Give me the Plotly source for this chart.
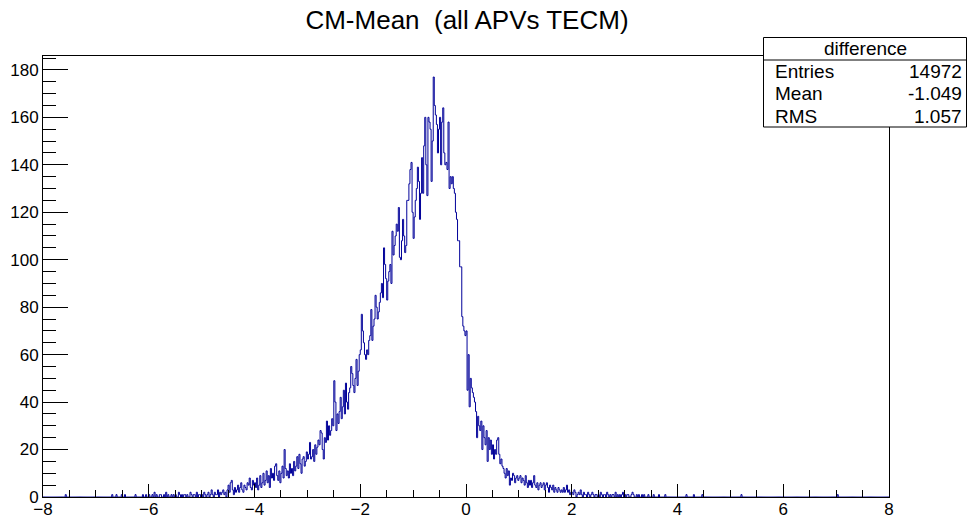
import plotly.graph_objects as go

# ---- data: bin counts, 800 bins of width 0.02 on [-8, 8], split per unit interval ----
x_min, x_max, n_bins = -8.0, 8.0, 800

c_m8 = [0]*21 + [1] + [0]*28
c_m7 = [0]*15 + [1,0,0,0,1,0,0,0,0,1,0,0,1] + [0]*9 + [1] + [0]*6 + [1,0,0,1,0,0]
c_m6 = [1,0,0,1,0,2,0,1,0,0,1,1,0,0,1,0,2,0,1,0,0,1,0,1,0,
        1,0,0,2,1,0,1,0,1,1,0,1,0,0,2,1,0,1,1,0,2,0,1,1,0]
c_m5 = [1,0,2,1,0,1,2,0,1,3,1,0,2,1,1,3,0,2,1,2,3,1,2,0,3,
        5,2,6,7,3,1,4,2,3,5,2,4,6,3,2,5,4,3,6,5,8,4,3,7,5]
c_m4 = [6,4,8,3,5,9,4,6,10,5,
        7,11,6,9,4,12,8,10,7,13,
        14,9,7,11,6,10,13,8,20,12,
        9,11,8,14,10,12,9,15,11,13,
        17,12,18,14,10,16,17,13,15,19]
c_m3 = [16,18,23,16,17,20,15,22,18,21,
        24,22,28,27,20,16,25,23,32,24,
        30,26,28,33,30,49,40,28,35,31,
        36,42,33,38,45,35,48,40,37,44,
        46,55,52,47,44,50,58,47,53,60]
c_m2 = [62,77,70,65,60, 58,62,60,66,68, 79,66,72,75,85, 80,75,78,82,86,
        90,84,105,98,92, 83,91,95,98,90, 112,102,106,110,115, 112,122,101,100,108,
        117,110,103,106,125, 125,132,138,141,120]
c_m1 = [109,118,125,130,139, 133,117,128,143,128, 148,160,140,127,160,
        158,155,133,150,177, 165,161,157,145,155, 160,140,158,164,145,
        140,141,138,158,130, 135,132,135,130,128, 120,117,108,108,97,
        97,76,72,70,68]
c_p0 = [70,45,60,38,50, 46,44,42,40,36, 25,34,30,28,32, 20,30,25,22,28,
        15,25,20,24,18, 22,16,20,18,24, 25,18,14,16,13, 12,10,8,12,9,
        11,5,8,7,10, 9,6,8,9,7]
c_p1 = [8,9,6,8,7,5,9,6,4,7,
        5,7,4,6,9,5,4,6,3,5,
        6,4,5,6,3,5,6,4,2,5,
        4,3,5,2,4,3,2,4,3,2,
        3,2,4,2,3,5,2,3,1,2]
c_p2 = [2,1,3,2,0,1,2,1,3,1,0,2,1,1,0,2,1,0,1,2,1,0,1,1,0,
        1,0,2,1,0,1,1,0,2,1,0,1,0,1,1,0,2,0,1,0,1,0,1,2,0]
c_p3 = [1,0,1,1,0,0,1,2,1,0,0,1,0,1,0,0,1,0,1,0,0,0,1,0,0,
        0,0,1,0,0,0,0,1,0,0,0,0,0,1,0,0,0,0,0,0,0,0,0,0,0]
c_p4 = [0]*8 + [1] + [0]*6 + [1] + [0]*7 + [1] + [0]*26
c_p5 = [0]*10 + [1] + [0]*39
c_p6 = [0]*50
c_p7 = [0,1] + [0]*48

counts = (c_m8 + c_m7 + c_m6 + c_m5 + c_m4 + c_m3 + c_m2 + c_m1 +
          c_p0 + c_p1 + c_p2 + c_p3 + c_p4 + c_p5 + c_p6 + c_p7)

title_text = "CM-Mean \u00a0(all APVs TECM)"
stats_title = "difference"
stats_labels = ["Entries", "Mean", "RMS"]
stats_values = ["14972", "-1.049", "1.057"]

# ---- figure ----
bw = (x_max - x_min) / n_bins
edges = [x_min + i * bw for i in range(n_bins + 1)]
xs = edges
ys = counts + [counts[-1]]

W, H = 968, 519
L, R, T, B = 43, 79, 56, 22
pw, ph = W - L - R, H - T - B

def px2x(px):
    return (px - L) / pw

def py2y(py):
    return (H - B - py) / ph

fig = go.Figure()
fig.add_trace(go.Scatter(x=xs, y=ys, mode="lines", line_shape="hv",
                         line=dict(color="#000099", width=1), hoverinfo="skip",
                         showlegend=False))

font_family = "Liberation Sans, Arial, Helvetica, sans-serif"
ymax = max(counts) * 1.05

fig.update_layout(
    width=W, height=H,
    margin=dict(l=L, r=R, t=T, b=B, autoexpand=False),
    paper_bgcolor="white", plot_bgcolor="white",
    font=dict(family=font_family, size=17, color="black"),
    title=dict(text=title_text, x=(467) / W, xanchor="center",
               y=1 - 20 / H, yanchor="middle",
               font=dict(size=26, family=font_family, color="black")),
    xaxis=dict(range=[x_min, x_max], showgrid=False, zeroline=False, automargin=False,
               showline=True, linecolor="black", linewidth=1, mirror=True,
               ticks="inside", ticklen=13, tickcolor="black", dtick=2, tick0=-8,
               minor=dict(ticks="inside", ticklen=7, dtick=0.5, tickcolor="black"),
               tickfont=dict(size=17), ticklabelstandoff=-3),
    yaxis=dict(range=[0, ymax], showgrid=False, zeroline=False, automargin=False,
               showline=True, linecolor="black", linewidth=1, mirror=True,
               ticks="inside", ticklen=25, tickcolor="black", dtick=20, tick0=0,
               minor=dict(ticks="inside", ticklen=13, dtick=5, tickcolor="black"),
               tickfont=dict(size=17)),
)

# stats box
bx0, bx1 = px2x(763.5), px2x(966.5)
by0, by1, bys = py2y(127), py2y(37.5), py2y(60)
fig.add_shape(type="rect", xref="paper", yref="paper", x0=bx0, x1=bx1, y0=by0, y1=by1,
              line=dict(color="black", width=1), fillcolor="white", layer="above")
fig.add_shape(type="line", xref="paper", yref="paper", x0=bx0, x1=bx1, y0=bys, y1=bys,
              line=dict(color="black", width=1), layer="above")
fig.add_annotation(xref="paper", yref="paper", x=(bx0 + bx1) / 2, y=py2y(48.5),
                   text=stats_title, showarrow=False, xanchor="center", yanchor="middle",
                   font=dict(size=19, family=font_family))
for k, (lab, val) in enumerate(zip(stats_labels, stats_values)):
    yy = py2y(72 + 22 * k)
    fig.add_annotation(xref="paper", yref="paper", x=px2x(773), y=yy, text=lab,
                       showarrow=False, xanchor="left", yanchor="middle",
                       font=dict(size=19, family=font_family))
    fig.add_annotation(xref="paper", yref="paper", x=px2x(964), y=yy, text=val,
                       showarrow=False, xanchor="right", yanchor="middle",
                       font=dict(size=19, family=font_family))

fig.write_html("out.html")
